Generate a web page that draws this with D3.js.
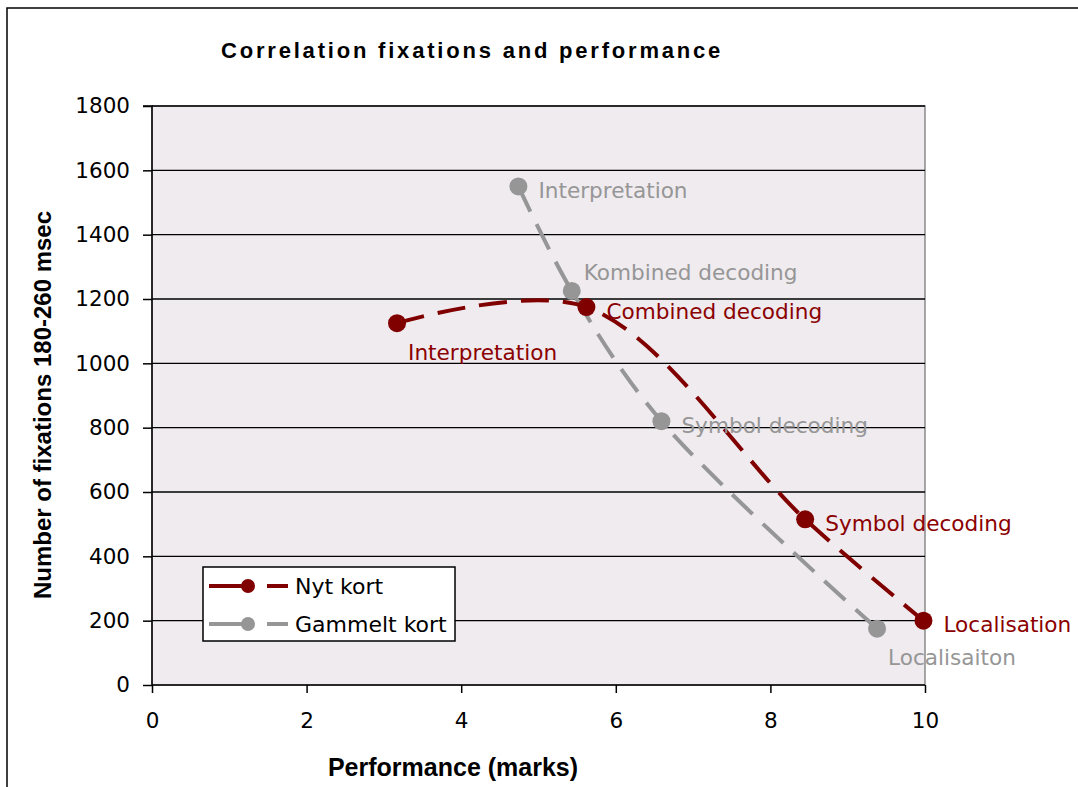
<!DOCTYPE html>
<html><head><meta charset="utf-8">
<script src="https://cdn.jsdelivr.net/npm/d3@7/dist/d3.min.js"></script>
<style>
html,body{margin:0;padding:0;background:#fff;}
svg text{font-family:"DejaVu Sans",sans-serif;}
</style></head>
<body><svg id="chart" width="1078" height="787"></svg>
<script>
// ---- data ----
const seriesNames = ["Nyt kort", "Gammelt kort"];
const nytX = [3.17, 5.62, 8.45, 9.98];
const nytY = [1125, 1175, 515, 200];
const nytLabels = ["Interpretation", "Combined decoding", "Symbol decoding", "Localisation"];
const gamX = [4.74, 5.43, 6.59, 9.38];
const gamY = [1550, 1225, 820, 175];
const gamLabels = ["Interpretation", "Kombined decoding", "Symbol decoding", "Localisaiton"];
const xTicks = [0, 2, 4, 6, 8, 10];
const yTicks = [0, 200, 400, 600, 800, 1000, 1200, 1400, 1600, 1800];
const titleText = "Correlation fixations and performance";
const xTitle = "Performance (marks)";
const yTitle = "Number of fixations 180-260 msec";

// label placement (layout only)
const nytPlace = ["below", "right", "right", "right"];
const gamPlace = ["right", "above", "right", "below"];
const placeOffset = {right: [20, 4], below: [11, 29], above: [12, -19]};

const svg = d3.select("#chart");
const L = 152, R = 925, T = 106, B = 685;
const x = d3.scaleLinear().domain([0, 10]).range([L, R]);
const y = d3.scaleLinear().domain([0, 1800]).range([B, T]);

// outer frame
svg.append("rect").attr("x", 7).attr("y", 8).attr("width", 1100).attr("height", 800)
  .attr("fill", "#fff").attr("stroke", "#000").attr("stroke-width", 1.5);

// plot background
svg.append("rect").attr("x", L).attr("y", T).attr("width", R - L).attr("height", B - T)
  .attr("fill", "#EFEBEF").attr("stroke", "#8a8a8a").attr("stroke-width", 1.5);

// gridlines
svg.append("g").selectAll("line").data(yTicks.filter(d => d > 0)).join("line")
  .attr("x1", L).attr("x2", R).attr("y1", d => y(d)).attr("y2", d => y(d))
  .attr("stroke", "#000").attr("stroke-width", 1.4);

// axes
const yAxis = svg.append("g").attr("transform", `translate(${L},0)`)
  .call(d3.axisLeft(y).tickValues(yTicks).tickSize(9).tickPadding(13).tickFormat(d3.format("d")));
const xAxis = svg.append("g").attr("transform", `translate(0,${B})`)
  .call(d3.axisBottom(x).tickValues(xTicks).tickSize(8).tickPadding(20).tickFormat(d3.format("d")));
[yAxis, xAxis].forEach(g => {
  g.select(".domain").attr("stroke", "#000").attr("stroke-width", 1.5);
  g.selectAll(".tick line").attr("stroke", "#000").attr("stroke-width", 1.5);
  g.selectAll(".tick text").attr("font-family", "DejaVu Sans").attr("font-size", 21.5).attr("fill", "#000");
});
yAxis.select(".domain").attr("d", `M-9,${T}H0V${B}`);
xAxis.select(".domain").attr("d", `M${L},0H${R}`);

// title
svg.append("text").attr("x", 221).attr("y", 58).text(titleText)
  .attr("font-weight", "bold").attr("font-size", 22).attr("letter-spacing", 2.8)
  .attr("fill", "#000").style("font-family", "Liberation Sans");

// axis titles
svg.append("text").attr("x", 453).attr("y", 776).attr("text-anchor", "middle").text(xTitle)
  .style("font-family", "Liberation Sans").attr("font-weight", "bold").attr("font-size", 25).attr("fill", "#000");
svg.append("text").attr("transform", "translate(51,405) rotate(-90)").attr("text-anchor", "middle").text(yTitle)
  .style("font-family", "Liberation Sans").attr("font-weight", "bold").attr("font-size", 24).attr("fill", "#000");

// series
const series = [
  {name: seriesNames[0], xs: nytX, ys: nytY, labels: nytLabels, place: nytPlace, color: "#800000", lcolor: "#8B0000"},
  {name: seriesNames[1], xs: gamX, ys: gamY, labels: gamLabels, place: gamPlace, color: "#969696", lcolor: "#969696"}
];
const line = d3.line().x(d => x(d[0])).y(d => y(d[1])).curve(d3.curveCatmullRom.alpha(0.5));

// draw gray first, then red on top
[series[1], series[0]].forEach(s => {
  const pts = s.xs.map((v, i) => [v, s.ys[i]]);
  svg.append("path").datum(pts).attr("d", line).attr("fill", "none")
    .attr("stroke", s.color).attr("stroke-width", 4).attr("stroke-dasharray", "28,14");
  svg.append("g").selectAll("circle").data(pts).join("circle")
    .attr("cx", d => x(d[0])).attr("cy", d => y(d[1])).attr("r", 9).attr("fill", s.color);
});
[series[1], series[0]].forEach(s => {
  svg.append("g").selectAll("text").data(s.labels).join("text")
    .attr("x", (d, i) => x(s.xs[i]) + placeOffset[s.place[i]][0])
    .attr("y", (d, i) => y(s.ys[i]) + placeOffset[s.place[i]][1])
    .attr("dy", "0.36em").text(d => d)
    .attr("font-size", 21.6).attr("fill", s.lcolor);
});

// legend
const lg = svg.append("g");
lg.append("rect").attr("x", 203).attr("y", 567).attr("width", 252).attr("height", 74)
  .attr("fill", "#fff").attr("stroke", "#000").attr("stroke-width", 1.5);
series.forEach((s, i) => {
  const cy = 586 + i * 38;
  lg.append("line").attr("x1", 209).attr("x2", 288).attr("y1", cy).attr("y2", cy)
    .attr("stroke", s.color).attr("stroke-width", 4).attr("stroke-dasharray", "45,13,21");
  lg.append("circle").attr("cx", 248).attr("cy", cy).attr("r", 7).attr("fill", s.color);
  lg.append("text").attr("x", 295).attr("y", cy).attr("dy", "0.36em").text(s.name)
    .attr("font-size", 22).attr("fill", "#000");
});
</script></body></html>
